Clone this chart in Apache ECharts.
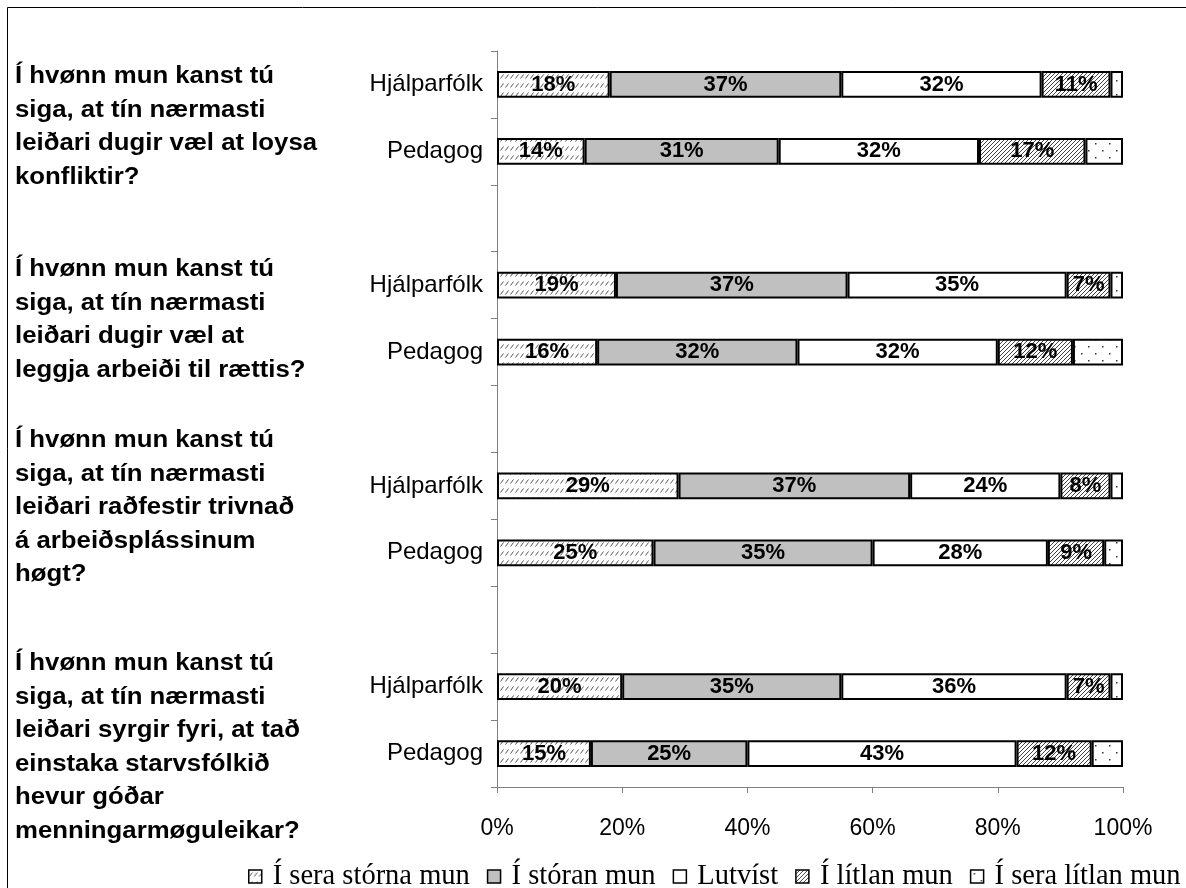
<!DOCTYPE html>
<html>
<head>
<meta charset="utf-8">
<script src="https://cdn.jsdelivr.net/npm/echarts@6/dist/echarts.min.js"></script>
<style>
  html, body { margin: 0; padding: 0; background: #fff; }
  #chart { width: 1186px; height: 888px; }
</style>
</head>
<body>
<div id="chart"></div>
<script>
// Rows from top to bottom; empty names are the spacer rows between questions
const categories = ['Hjálparfólk', 'Pedagog', '', 'Hjálparfólk', 'Pedagog', '', 'Hjálparfólk', 'Pedagog', '', 'Hjálparfólk', 'Pedagog'];
const seriesNames = ['Í sera stórna mun', 'Í stóran mun', 'Lutvíst', 'Í lítlan mun', 'Í sera lítlan mun'];
const seraStorna = [18, 14, null, 19, 16, null, 29, 25, null, 20, 15];
const storan     = [37, 31, null, 37, 32, null, 37, 35, null, 35, 25];
const lutvist    = [32, 32, null, 35, 32, null, 24, 28, null, 36, 43];
const litlan     = [11, 17, null, 7, 12, null, 8, 9, null, 7, 12];
const seraLitlan = [2, 6, null, 2, 8, null, 2, 3, null, 2, 5];
const xTicks = [0, 20, 40, 60, 80, 100];
const questions = [
  'Í hvønn mun kanst tú\nsiga, at tín nærmasti\nleiðari dugir væl at loysa\nkonfliktir?',
  'Í hvønn mun kanst tú\nsiga, at tín nærmasti\nleiðari dugir væl at\nleggja arbeiði til rættis?',
  'Í hvønn mun kanst tú\nsiga, at tín nærmasti\nleiðari raðfestir trivnað\ná arbeiðsplássinum\nhøgt?',
  'Í hvønn mun kanst tú\nsiga, at tín nærmasti\nleiðari syrgir fyri, at tað\neinstaka starvsfólkið\nhevur góðar\nmenningarmøguleikar?'
];
const questionTops = [60, 253, 424, 647];

// Fill patterns drawn on small tiles
function tile(w, h, draw) {
  const c = document.createElement('canvas');
  c.width = w; c.height = h;
  const ctx = c.getContext('2d');
  ctx.fillStyle = '#fff';
  ctx.fillRect(0, 0, w, h);
  draw(ctx);
  return { image: c, repeat: 'repeat' };
}
const dashHatch = tile(5, 9, ctx => {
  ctx.strokeStyle = '#555';
  ctx.lineWidth = 1;
  ctx.beginPath();
  ctx.moveTo(0.5, 6.5); ctx.lineTo(3.5, 2.5);
  ctx.stroke();
});
const denseHatch = tile(4, 4, ctx => {
  ctx.strokeStyle = '#444';
  ctx.lineWidth = 1;
  ctx.beginPath();
  ctx.moveTo(-1, 5); ctx.lineTo(5, -1);
  ctx.moveTo(-1, 1); ctx.lineTo(1, -1);
  ctx.moveTo(3, 5); ctx.lineTo(5, 3);
  ctx.stroke();
});
const dots = tile(14, 14, ctx => {
  ctx.fillStyle = '#333';
  ctx.fillRect(3, 3, 1.5, 1.5);
  ctx.fillRect(10, 10, 1.5, 1.5);
});

const fills = [dashHatch, '#c0c0c0', '#ffffff', denseHatch, dots];
const values = [seraStorna, storan, lutvist, litlan, seraLitlan];

const series = seriesNames.map((name, i) => ({
  name,
  type: 'bar',
  stack: 'total',
  barWidth: '40%',
  data: values[i],
  itemStyle: { color: fills[i], borderColor: '#000', borderWidth: 2 },
  label: {
    show: i < 4,
    position: 'inside',
    formatter: '{c}%',
    color: '#000',
    fontFamily: 'Liberation Sans, Arial, sans-serif',
    fontWeight: 'bold',
    fontSize: 22
  },
  emphasis: { disabled: true },
  animation: false
}));

const chart = echarts.init(document.getElementById('chart'), null, { renderer: 'canvas' });
chart.setOption({
  backgroundColor: '#fff',
  animation: false,
  grid: { left: 497, right: 63, top: 51, bottom: 101, containLabel: false },
  xAxis: {
    type: 'value',
    min: 0, max: 100, interval: 20,
    axisLine: { show: true, lineStyle: { color: '#808080', width: 1 } },
    axisTick: { show: true, length: 6, lineStyle: { color: '#808080' } },
    splitLine: { show: false },
    axisLabel: {
      formatter: v => xTicks.includes(v) ? v + '%' : '',
      color: '#000', fontFamily: 'Liberation Sans, Arial, sans-serif', fontSize: 23, margin: 30
    }
  },
  yAxis: {
    type: 'category',
    inverse: true,
    data: categories,
    axisLine: { show: true, lineStyle: { color: '#808080', width: 1 } },
    axisTick: { show: true, length: 6, interval: 0, lineStyle: { color: '#808080' } },
    axisLabel: {
      interval: 0, color: '#000', margin: 14,
      fontFamily: 'Liberation Sans, Arial, sans-serif', fontSize: 24
    }
  },
  legend: {
    left: 243, top: 857,
    icon: 'rect',
    itemWidth: 13, itemHeight: 13, itemGap: 17,
    selectedMode: false,
    itemStyle: { borderColor: '#000', borderWidth: 1.5 },
    textStyle: { color: '#000', fontFamily: 'Liberation Serif, Times New Roman, serif', fontSize: 28.5, padding: [0, 0, 0, 6] },
    data: seriesNames
  },
  graphic: [
    {
      type: 'rect', silent: true, z: 100,
      shape: { x: 7.5, y: 7.5, width: 1200, height: 900 },
      style: { fill: null, stroke: '#000', lineWidth: 1 }
    }
  ].concat(questions.map((q, i) => ({
    type: 'text', silent: true,
    x: 15, y: questionTops[i],
    scaleX: 1.12,
    style: {
      text: q,
      fill: '#000',
      fontFamily: 'Liberation Sans, Arial, sans-serif',
      fontWeight: 'bold',
      fontSize: 23,
      lineHeight: 33.5
    }
  }))),
  series
});
</script>
</body>
</html>
